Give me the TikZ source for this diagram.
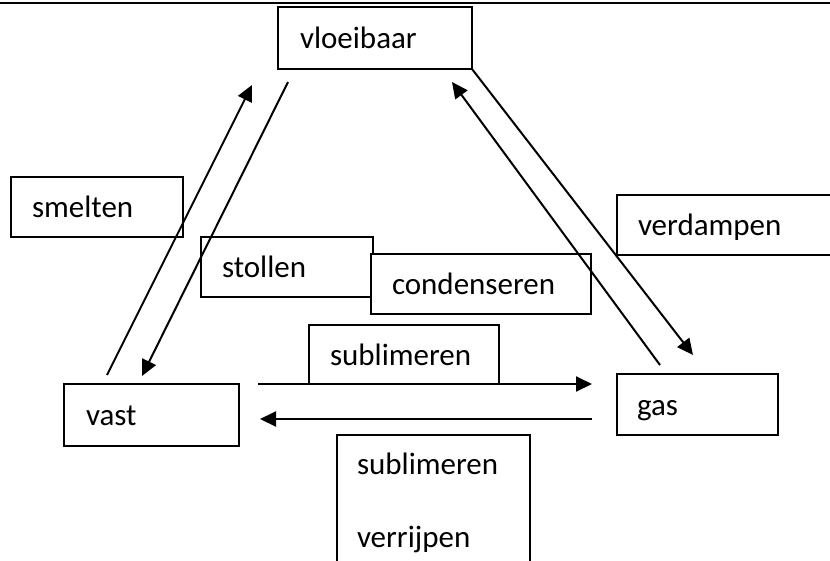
\documentclass[tikz,border=0pt]{standalone}
\usepackage{fontspec}
\setmainfont{Carlito}
\usetikzlibrary{arrows.meta}
\begin{document}
\begin{tikzpicture}[x=1pt,y=-1pt,
  boxbase/.style={draw, line width=1.8pt, fill=white, rectangle, anchor=north west,
    outer sep=0pt, inner xsep=21pt, inner ysep=0pt, align=left,
    font=\fontsize{31pt}{37pt}\selectfont},
  box/.style={boxbase, text height=26pt, text depth=5pt},
  conn/.style={line width=2pt, -{Triangle[length=16pt,width=15pt]}}]
\useasboundingbox (0,0) rectangle (830,560);
% top rule
\coordinate (tl) at (0,3);
\coordinate (tr) at (830,3);
\draw[line width=2.3pt] (tl) -- (tr);
% boxes
\node[box, text width=150pt, minimum height=62pt, inner xsep=22pt] (vl) at (278,7) {vloeibaar};
\node[box, text width=130pt, minimum height=60pt] (sm) at (11,177) {smelten};
\node[box, text width=130pt, minimum height=60pt] (st) at (201,237) {stollen};
\node[box, text width=178pt, minimum height=60pt] (co) at (371,254) {condenseren};
\node[box, text width=198pt, minimum height=60pt] (ve) at (617,195) {verdampen};
\node[box, text width=148pt, minimum height=59pt] (su) at (309,325) {sublimeren};
\node[box, text width=121pt, minimum height=61pt, inner xsep=20pt] (ga) at (617,374) {gas};
\node[box, text width=131pt, minimum height=62pt, inner xsep=22pt] (va) at (64,384) {vast};
\node[boxbase, text width=153pt, inner xsep=20pt, inner ysep=18pt] (bo) at (337,435) {sublimeren\\[36pt]verrijpen};
% arrow end points
\coordinate (smS) at (107,375); \coordinate (smE) at (252,85);
\coordinate (stS) at (288,82);  \coordinate (stE) at (142,376);
\coordinate (coS) at (660,365); \coordinate (coE) at (452,82);
\coordinate (veE) at (693,355);
\coordinate (suS) at (258,384); \coordinate (suE) at (592,384);
\coordinate (srS) at (592,419); \coordinate (srE) at (260,419);
% connectors
\draw[conn] (smS) -- (smE);
\draw[conn] (stS) -- (stE);
\draw[conn] (coS) -- (coE);
\draw[conn] (vl.south east) -- (veE);
\draw[conn] (suS) -- (suE);
\draw[conn] (srS) -- (srE);
\end{tikzpicture}
\end{document}
